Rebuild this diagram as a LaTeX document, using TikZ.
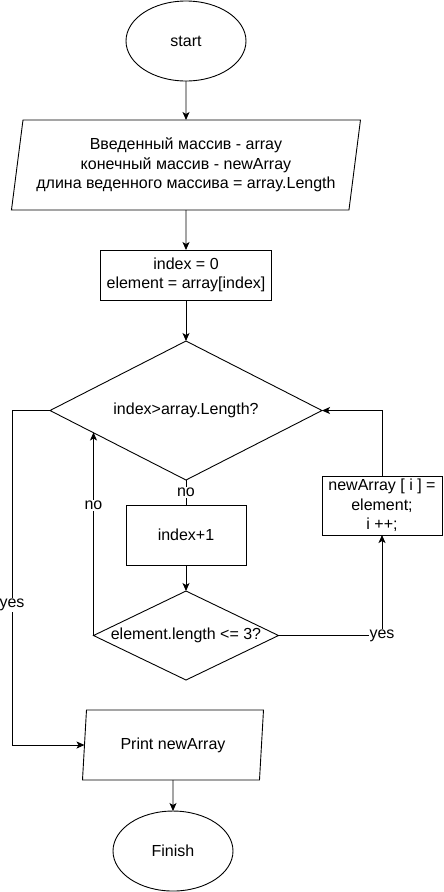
\documentclass[tikz,border=0pt]{standalone}
\usepackage{fontspec}
\setmainfont{Liberation Sans}
\usetikzlibrary{positioning,shapes.geometric,arrows.meta,calc}

\begin{document}
\begin{tikzpicture}[x=1pt,y=1pt,node distance=40pt,
  every node/.style={font=\fontsize{16}{19.5}\selectfont},
  term/.style={draw,ellipse,line width=0.9pt,minimum width=120pt,minimum height=80pt,inner sep=0pt,outer sep=0pt},
  io/.style={draw,trapezium,trapezium left angle=78,trapezium right angle=102,trapezium stretches body,line width=0.9pt,inner sep=0pt,outer sep=0pt,align=center},
  proc/.style={draw,rectangle,line width=0.9pt,inner sep=0pt,outer sep=0pt,align=center},
  cond/.style={draw,diamond,line width=0.9pt,inner sep=0pt,outer sep=0pt},
  flow/.style={-{Stealth[length=8pt,width=7pt,inset=2pt]},line width=0.9pt},
  plain/.style={line width=0.9pt},
  lbl/.style={fill=white,inner sep=1pt}]
    \useasboundingbox (0,0) rectangle (444,-892);

    \node[term] (start) at (186,-41) {start};
    \node[io,minimum width=349pt,minimum height=90pt] (inp) [below = 39pt of start] {Введенный массив - array\\конечный массив - newArray\\длина веденного массива = array.Length};
    \node[proc,minimum width=171pt,minimum height=50pt] (init) [below = 40pt of inp] {index = 0\\element = array[index]};
    \node[cond,minimum width=272pt,minimum height=139pt,aspect=1.96] (chk) [below = 41pt of init] {index>array.Length?};
    \node[proc,minimum width=120pt,minimum height=60pt] (inc) [below = 25pt of chk] {index+1};
    \node[cond,minimum width=185pt,minimum height=89pt,aspect=2.08] (len) [below = 26pt of inc] {element.length <= 3?};
    \node[proc,minimum width=120pt,minimum height=59pt] (push) [right = 76pt of inc, yshift=29.5pt] {newArray [ i ] =\\element;\\i ++;};
    \node[io,trapezium left angle=75,trapezium right angle=105,minimum width=181pt,minimum height=70pt] (out) [below = 30pt of len, xshift=-13pt] {Print newArray};
    \node[term] (fin) [below = 31pt of out] {Finish};

    \coordinate (back) at ($(chk.west)!0.316!(chk.south)$);
    \coordinate (exit) at ([xshift=-38pt]chk.west);

    \path (start) edge[flow] (inp);
    \path (inp) edge[flow] (init);
    \path (init) edge[flow] (chk);
    \path (chk.south) edge[plain] node[lbl] {no} (inc.north);
    \path (inc) edge[flow] (len);
    \path (out) edge[flow] (fin);

    \draw[flow] (len.west) -- node[lbl,pos=0.64] {no} (len.west |- back);
    \draw[flow] (len.east) -| node[lbl,pos=0.5] {yes} (push.south);
    \draw[flow] (push.north) |- (chk.east);
    \draw[flow] (chk.west) -- (exit) -- node[lbl,pos=0.58] {yes} (exit |- out.west) -- (out.west);
\end{tikzpicture}
\end{document}
